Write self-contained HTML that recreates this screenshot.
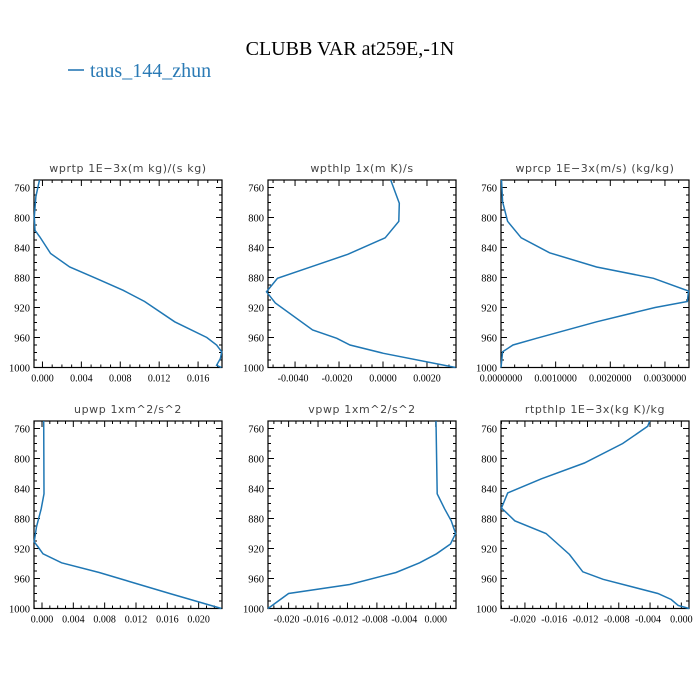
<!DOCTYPE html>
<html><head><meta charset="utf-8"><style>
html,body{margin:0;padding:0;background:#fff;}
svg{display:block;}
</style></head><body>
<svg id="fig" width="700" height="700" viewBox="0 0 700 700" xmlns="http://www.w3.org/2000/svg">
<rect width="700" height="700" fill="#fff"/>
<text x="350" y="55" text-anchor="middle" font-family="Liberation Serif, serif" font-size="20" fill="#000">CLUBB VAR at259E,-1N</text>
<g>
<line x1="68" y1="70" x2="84" y2="70" stroke="#2a7ab5" stroke-width="1.6"/>
<text x="90" y="77" font-family="Liberation Serif, serif" font-size="20" fill="#2a7ab5">taus_144_zhun</text>
</g>
</svg>
<script>
const titles=["wprtp  1E\u22123x(m kg)/(s kg)","wpthlp  1x(m K)/s","wprcp  1E\u22123x(m/s) (kg/kg)","upwp  1xm^2/s^2","vpwp  1xm^2/s^2","rtpthlp  1E\u22123x(kg K)/kg"];
const xDomains=[[-0.00087,0.01846],[-0.00523,0.00332],[0,0.00344],[-0.00102,0.02298],[-0.0228,0.00275],[-0.02306,0.00098]];
const xTicks=[[0,0.004,0.008,0.012,0.016],[-0.004,-0.002,0,0.002],[0,0.001,0.002,0.003],[0,0.004,0.008,0.012,0.016,0.020],[-0.020,-0.016,-0.012,-0.008,-0.004,0],[-0.020,-0.016,-0.012,-0.008,-0.004,0]];
const xTickLabels=[["0.000","0.004","0.008","0.012","0.016"],["-0.0040","-0.0020","0.0000","0.0020"],["0.0000000","0.0010000","0.0020000","0.0030000"],["0.000","0.004","0.008","0.012","0.016","0.020"],["-0.020","-0.016","-0.012","-0.008","-0.004","0.000"],["-0.020","-0.016","-0.012","-0.008","-0.004","0.000"]];
const yTicks=[760,800,840,880,920,960,1000];
const p1=[750,772,799,817,826,848,866,881,897,912,939,960,970,979,988,997,1000];
const v1=[-0.0003,-0.00067,-0.00084,-0.00077,-0.00026,0.00084,0.0028,0.0055,0.0083,0.0105,0.0136,0.0169,0.0179,0.01843,0.0183,0.0179,0.0184];
const p2=[750,781,805,827,849,865,881,899,914,950,961,970,981,1000];
const v2=[0.00035,0.00074,0.00072,0.0001,-0.0016,-0.0032,-0.0048,-0.0053,-0.0049,-0.0032,-0.0021,-0.0015,0.00002,0.0033];
const p3=[750,779,805,827,847,866,881,898,912,920,939,961,970,979,1000];
const v3=[0.00001,0.00003,0.00012,0.00037,0.00089,0.00175,0.00279,0.00343,0.00341,0.00282,0.00175,0.00065,0.00022,0.00003,0];
const p4=[750,847,867,891,911,918,927,939,952,980,1000];
const v4=[0.00022,0.00026,-0.0001,-0.0007,-0.001,-0.0005,0.00013,0.0025,0.0073,0.0163,0.0229];
const p5=[750,847,867,883,900,914,927,939,952,968,980,1000];
const v5=[0.00003,0.0002,0.0012,0.0021,0.0027,0.002,0.0001,-0.0022,-0.0054,-0.0117,-0.020,-0.0228];
const p6=[750,757,780,806,827,846,866,883,900,914,928,951,961,980,988,996,1000];
const v6=[-0.00404,-0.0043,-0.0075,-0.0124,-0.0179,-0.0222,-0.023,-0.0213,-0.0173,-0.0158,-0.0143,-0.0126,-0.0100,-0.0030,-0.0013,-0.0004,0.001];
const series=[[p1,v1],[p2,v2],[p3,v3],[p4,v4],[p5,v5],[p6,v6]];
const names=["wprtp","wpthlp","wprcp","upwp","vpwp","rtpthlp"];
const NS="http://www.w3.org/2000/svg";
const fig=document.getElementById('fig');
const lefts=[34,268,501],widths=[188,188,188],tops=[180,421],H=187.5;
function mk(tag,attrs,parent){const e=document.createElementNS(NS,tag);for(const k in attrs)e.setAttribute(k,attrs[k]);parent.appendChild(e);return e;}
for(let i=0;i<6;i++){
  const L=lefts[i%3],W=widths[i%3],T=tops[Math.floor(i/3)],B=T+H;
  const g=mk('g',{},fig);
  
  
  const [x0,x1]=xDomains[i];
  const xs=v=>L+(v-x0)/(x1-x0)*W;
  const ys=p=>T+(p-750)/250*H;
  const t=mk('text',{x:L+W/2,y:T-8,'text-anchor':'middle','font-family':'DejaVu Sans, sans-serif','font-size':'11','fill':'#444','letter-spacing':'0.6'},g);
  t.textContent=titles[i];
  
  
  // y minor/major ticks
  for(let p=760;p<=1000;p+=10){
    const maj=(p%40===0)&&yTicks.includes(p);
    const len=maj?6:3;const y=ys(p);
    mk('line',{x1:L,y1:y,x2:L+len,y2:y,stroke:'#000','stroke-width':1},g);
    mk('line',{x1:L+W,y1:y,x2:L+W-len,y2:y,stroke:'#000','stroke-width':1},g);
  }
  yTicks.forEach(p=>{
    const yl=mk('text',{x:L-4,y:ys(p)+4,'text-anchor':'end','font-family':'Liberation Serif, serif','font-size':'10.5',fill:'#000'},g);
    yl.textContent=String(p);
    
    
  });
  // x ticks
  const tk=xTicks[i],step=tk[1]-tk[0];
  for(let k=-8;k<(tk.length+8)*4;k++){
    const v=tk[0]+k*step/4;
    if(v<x0-1e-12||v>x1+1e-12)continue;
    const maj=(k%4===0);const len=maj?6:3;const x=xs(v);
    mk('line',{x1:x,y1:B,x2:x,y2:B-len,stroke:'#000','stroke-width':1},g);
    mk('line',{x1:x,y1:T,x2:x,y2:T+len,stroke:'#000','stroke-width':1},g);
  }
  tk.forEach((v,j)=>{
    const lab=xTickLabels[i][j];
    const xl=mk('text',{x:xs(v)-(lab[0]==='-'?2:0),y:B+14,'text-anchor':'middle','font-family':'Liberation Serif, serif','font-size':'10',fill:'#000'},g);
    xl.textContent=lab;
    
    
  });
  const fr=mk('rect',{x:L,y:T,width:W,height:H,fill:'none',stroke:'#000','stroke-width':1.2},g);
  
  
  const [pp,vv]=series[i];
  const d=pp.map((p,j)=>(j?'L':'M')+xs(vv[j]).toFixed(1)+','+ys(p).toFixed(1)).join(' ');
  const ln=mk('path',{d:d,fill:'none',stroke:'#1f77b4','stroke-width':1.5},g);
  
  
}
</script>
</body></html>
